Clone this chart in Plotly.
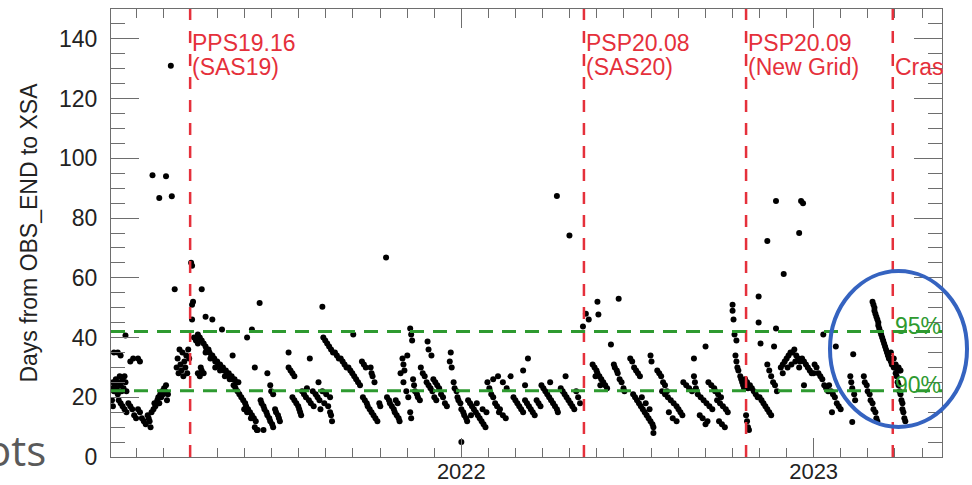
import pandas as pd
import plotly.graph_objects as go

# ---------------- data ----------------
EPOCH = "2021-01-01"   # obs day offsets are days since this date

# (days since EPOCH, days from OBS_END to XSA)
obs_before_sas19 = [
    (3, 23), (4, 25), (5, 22), (6, 24), (7, 26), (8, 23), (9, 21), (10, 25), (11, 27), (12, 24),
    (13, 22), (14, 26), (15, 23), (16, 27), (17, 25), (18, 22), (5, 35), (9, 35), (12, 34), (17, 40.7),
    (3, 19), (4, 17), (10, 19), (12, 18), (14, 17), (16, 16), (18, 15), (20, 18), (22, 17), (24, 16),
    (26, 14), (28, 13), (30, 16), (32, 15), (34, 13), (36, 12), (38, 11), (40, 14), (41, 13), (42, 12),
    (43, 10), (44, 15), (46, 16), (47, 18), (48, 17), (50, 19), (51, 20), (52, 18), (53, 21), (54, 20),
    (55, 22), (56, 21), (57, 23), (58, 22), (59, 24), (60, 19), (61, 21), (22, 32), (25, 33), (30, 33),
    (32, 32), (45, 94.3), (59, 94), (52, 86.7), (65, 87.3), (64, 131), (68, 56.2), (70, 30), (71, 33),
    (72, 28), (73, 36), (74, 31), (75, 29), (76, 35), (77, 27), (78, 32), (79, 30), (80, 34), (81, 28),
    (82, 36), (83, 33),
]

obs_sas19 = [
    (85, 65), (86, 64), (86, 51), (87, 52), (86, 46), (96, 56.2), (88, 40), (90, 39), (92, 38), (92, 28),
    (94, 27), (96, 29), (95, 30), (98, 28), (92, 41), (94, 40), (96, 39), (98, 38), (100, 37), (101, 36),
    (103, 36), (104, 35), (106, 34), (107, 34), (109, 33), (110, 32), (112, 32), (113, 31), (115, 31),
    (116, 30), (118, 30), (119, 29), (121, 29), (122, 28), (124, 28), (125, 27), (127, 27), (128, 26),
    (130, 26), (132, 25), (134, 25), (100, 35), (105, 33), (110, 30), (115, 29), (120, 27), (125, 26),
    (130, 24), (100, 47), (107, 46), (117, 42.7), (128, 34), (129, 24), (131, 23), (133, 22), (135, 21),
    (137, 20), (139, 19), (141, 18), (142, 17), (144, 16), (146, 15), (148, 14), (150, 13), (152, 12),
    (140, 16), (143, 15), (147, 13), (151, 10), (153, 9), (154, 9), (160, 9), (143, 40), (148, 42.7),
    (151, 30), (156, 51.6), (157, 19), (158, 18), (160, 17), (161, 16), (163, 15), (164, 14), (166, 13),
    (167, 12), (169, 11), (170, 10), (172, 16), (173, 15), (175, 14), (176, 13), (177, 12), (164, 28),
    (167, 24), (168, 22), (170, 21), (186, 35), (186, 30), (188, 29), (190, 28), (192, 27), (190, 20),
    (192, 19), (194, 18), (196, 17), (197, 16), (198, 15), (199, 14), (200, 22), (202, 21), (204, 20),
    (205, 23), (207, 19), (209, 18), (211, 22), (212, 17), (214, 21), (216, 20), (218, 19), (219, 16),
    (221, 22), (223, 18), (225, 21), (227, 17), (229, 20), (208, 33), (217, 25), (221, 50.3), (222, 40),
    (224, 39), (226, 38), (228, 37), (230, 36), (232, 35), (234, 35), (236, 34), (238, 33), (229, 15),
    (230, 14), (231, 12), (240, 33), (242, 32), (244, 31), (246, 30), (248, 30), (250, 29), (252, 28),
    (254, 27), (256, 26), (258, 25), (260, 24), (253, 41), (262, 32), (264, 31), (266, 30), (271, 30),
    (272, 28), (273, 27), (275, 25), (263, 20), (265, 19), (267, 18), (268, 17), (270, 16), (272, 15),
    (274, 14), (276, 13), (278, 12), (280, 18), (281, 17), (287, 66.8), (288, 20), (290, 19), (291, 18),
    (293, 17), (295, 16), (296, 15), (298, 14), (300, 13), (301, 12), (297, 19), (299, 18), (304, 33),
    (305, 31), (306, 29), (309, 34), (312, 43), (313, 41), (314, 39), (312, 15), (313, 13), (315, 26),
    (316, 24), (317, 22), (319, 21), (320, 20), (322, 19), (302, 28), (305, 25), (308, 22), (310, 20),
    (330, 38.7), (331, 36), (334, 34), (323, 30), (325, 28), (327, 27), (329, 25), (331, 24), (333, 23),
    (335, 22), (337, 20), (339, 19), (336, 26), (338, 25), (340, 24), (342, 23), (344, 21), (346, 20),
    (348, 18), (350, 17), (354, 35), (353, 32), (355, 30), (357, 25), (358, 23), (360, 22), (361, 20),
    (362, 19), (364, 18), (365, 16), (367, 15), (368, 14), (370, 13), (371, 12), (365, 5), (372, 19),
    (374, 18), (376, 17), (378, 16), (380, 15), (382, 14), (384, 13), (386, 12), (388, 11), (390, 10),
    (375, 14), (381, 18), (387, 16), (391, 15), (392, 25), (394, 23), (396, 21), (398, 20), (400, 18),
    (402, 17), (404, 15), (398, 26), (403, 27), (408, 25), (412, 23), (405, 16), (408, 14), (411, 13),
    (416, 27), (429, 29), (434, 33), (419, 20), (421, 19), (423, 18), (425, 17), (427, 16), (429, 15),
    (431, 19), (433, 18), (435, 17), (437, 16), (439, 15), (441, 14), (443, 19), (445, 18), (447, 17),
    (431, 24), (448, 24), (450, 23), (452, 22), (454, 21), (456, 20), (458, 19), (460, 18), (462, 17),
    (464, 16), (465, 15), (457, 25), (473, 27), (468, 23), (470, 22), (472, 21), (474, 20), (476, 19),
    (478, 18), (480, 17), (482, 16), (484, 22), (486, 20), (488, 18), (464, 87.4), (477, 74.2),
]

obs_sas20 = [
    (491, 43.7), (494, 48), (497, 46), (506, 52), (507, 47.7), (528, 53), (520, 37.7), (501, 31),
    (503, 30), (505, 29), (506, 28), (508, 27), (510, 26), (512, 25), (514, 24), (516, 23), (504, 27),
    (509, 24), (523, 31), (524, 30), (526, 29), (527, 28), (529, 26), (531, 25), (533, 23), (534, 22),
    (540, 33), (542, 32), (544, 30), (546, 29), (548, 28), (550, 27), (543, 21), (545, 20), (547, 19),
    (549, 18), (551, 17), (553, 16), (555, 15), (557, 14), (559, 13), (561, 12), (563, 11), (564, 10),
    (552, 20), (556, 18), (560, 16), (564, 8), (561, 34), (562, 32), (568, 29), (570, 28), (572, 27),
    (574, 25), (576, 24), (578, 22), (573, 22), (576, 21), (579, 20), (582, 19), (585, 18), (588, 17),
    (590, 16), (592, 15), (594, 14), (580, 15), (584, 13), (588, 12), (606, 33), (606, 27), (607, 25),
    (608, 23), (595, 25), (598, 24), (601, 23), (604, 22), (610, 21), (613, 20), (616, 19), (619, 18),
    (622, 17), (625, 16), (628, 22), (631, 21), (634, 20), (618, 37), (620, 12), (612, 14), (615, 13),
    (618, 11), (621, 25), (624, 24), (627, 23), (630, 19), (633, 18), (636, 17), (639, 16), (641, 15),
    (632, 12), (635, 11), (638, 10), (646, 51), (646, 49), (647, 46), (648, 41), (650, 39), (649, 34),
    (650, 32), (651, 30), (652, 29), (654, 27), (655, 26), (656, 25), (657, 24), (658, 23), (659, 26),
]

obs_new_grid = [
    (661, 25), (662, 23), (660, 14), (661, 12), (662, 10), (663, 9), (664, 24), (666, 23), (668, 22),
    (670, 21), (672, 20), (674, 20), (676, 19), (678, 18), (680, 17), (682, 16), (684, 15), (686, 14),
    (673, 53.7), (673, 45), (675, 38), (691, 43), (689, 37), (682, 31), (684, 29), (686, 27), (688, 25),
    (690, 24), (692, 22), (691, 85.7), (717, 85.7), (719, 85), (682, 72.3), (715, 75), (699, 61.3),
    (696, 30), (698, 31), (700, 32), (702, 33), (704, 34), (706, 35), (708, 35), (710, 36), (712, 34),
    (714, 33), (716, 32), (698, 28), (703, 30), (707, 31), (711, 32), (715, 30), (718, 33), (720, 32),
    (722, 31), (724, 30), (726, 29), (728, 28), (730, 28), (720, 24), (731, 31), (733, 30), (735, 28),
    (737, 27), (739, 26), (741, 24), (743, 23), (745, 22), (740, 41), (746, 24), (748, 22), (750, 21),
    (752, 20), (754, 18), (756, 17), (758, 16), (749, 15), (753, 37), (770, 11.7), (771, 34.4),
    (768, 27), (769, 25), (770, 23), (772, 21), (773, 19), (782, 27), (783, 25), (785, 24), (786, 22),
    (788, 21), (789, 19), (791, 18), (792, 16), (794, 15), (795, 13), (796, 12), (791, 52), (792, 51),
    (793, 50), (793, 49), (794, 48), (795, 47), (796, 46), (797, 45), (797, 44), (798, 43), (799, 42),
    (800, 41), (801, 40), (802, 39), (803, 38), (804, 37), (805, 36), (806, 35), (807, 34), (808, 33),
    (809, 33), (810, 32), (811, 31), (812, 31), (813, 30), (814, 30), (815, 31), (816, 30), (817, 29),
    (818, 30), (819, 29), (820, 29), (815, 28), (813, 33), (810, 35), (816, 27), (817, 25), (818, 24),
    (819, 22), (820, 21), (821, 19), (822, 18), (822, 16), (823, 15), (824, 13), (825, 12),
]

event_dates = ["2021-03-26", "2022-05-08", "2022-10-23", "2023-03-24"]
event_line1 = ["PPS19.16", "PSP20.08", "PSP20.09", ""]
event_line2 = ["(SAS19)", "(SAS20)", "(New Grid)", "Cras"]

threshold_values = [42.0, 22.2]
threshold_labels = ["95%", "90%"]

x_range = ["2021-01-03", "2023-05-14"]
y_range = [0, 150]

# ---------------- build ----------------
all_obs = obs_before_sas19 + obs_sas19 + obs_sas20 + obs_new_grid
days = [p[0] for p in all_obs]
delays = [p[1] for p in all_obs]
dates = pd.to_datetime(EPOCH) + pd.to_timedelta(days, unit="D")

RED = "#e5303b"
GREEN = "#2e9a30"
AXC = "#6e6e6e"
FONT = "Liberation Sans"

fig = go.Figure()
fig.add_trace(go.Scatter(
    x=dates, y=delays, mode="markers",
    marker=dict(color="black", size=6, line=dict(width=0)),
    showlegend=False, hoverinfo="skip",
))

for d in event_dates:
    fig.add_shape(type="line", xref="x", yref="paper", x0=d, x1=d, y0=0, y1=1,
                  line=dict(color=RED, width=2.5, dash="12px,11px"))

for v in threshold_values:
    fig.add_shape(type="line", xref="paper", yref="y", x0=0, x1=1, y0=v, y1=v,
                  line=dict(color=GREEN, width=3, dash="14px,9px"))

ann = []
for d, l1, l2 in zip(event_dates, event_line1, event_line2):
    if l1:
        ann.append(dict(x=d, y=0.924, xref="x", yref="paper", text=l1, showarrow=False,
                        xanchor="left", yanchor="middle", xshift=0,
                        font=dict(family=FONT, size=23, color=RED)))
    ann.append(dict(x=d, y=0.8705, xref="x", yref="paper", text=l2, showarrow=False,
                    xanchor="left", yanchor="middle", xshift=0,
                    font=dict(family=FONT, size=23, color=RED)))

for v_pos, lab in zip([0.2924, 0.1607], threshold_labels):
    ann.append(dict(x=event_dates[-1], y=v_pos, xref="x", yref="paper", text=lab,
                    showarrow=False, xanchor="left", yanchor="middle", xshift=0,
                    font=dict(family=FONT, size=23, color=GREEN)))

ann.append(dict(x=-0.0758, y=-0.052, xref="paper", yref="paper", text="ots",
                showarrow=False, xanchor="right", yanchor="bottom",
                font=dict(family="Open Sans", size=42, color="#5a5a5a")))

fig.add_shape(type="circle", xref="paper", yref="paper",
              x0=0.8652, x1=1.0301, y0=0.067, y1=0.415,
              line=dict(color="#3563c0", width=4))

fig.update_layout(
    width=972, height=485,
    margin=dict(l=111, r=30, t=9, b=28, autoexpand=False),
    paper_bgcolor="white", plot_bgcolor="white",
    font=dict(family=FONT, size=23, color="#222222"),
    annotations=ann,
)

fig.update_xaxes(
    type="date", range=x_range,
    showline=True, linecolor=AXC, linewidth=1, mirror="ticks",
    ticks="inside", ticklen=19, tickcolor=AXC, tickwidth=1,
    tick0="2021-01-01", dtick="M12", tickformat="%Y", ticklabelstandoff=-5,
    tickfont=dict(family=FONT, size=22, color="#222222"),
    showgrid=False, zeroline=False,
    minor=dict(ticks="inside", ticklen=9, tickcolor=AXC, tickwidth=1,
               tick0="2021-01-01", dtick=int(365 / 13 * 86400000), showgrid=False),
)

fig.update_yaxes(
    range=y_range,
    showline=True, linecolor=AXC, linewidth=1, mirror="ticks",
    ticks="inside", ticklen=28, tickcolor=AXC, tickwidth=1,
    tick0=0, dtick=20, ticklabelstandoff=8,
    tickfont=dict(family=FONT, size=23, color="#222222"),
    showgrid=False, zeroline=False,
    minor=dict(ticks="inside", ticklen=14, tickcolor=AXC, tickwidth=1,
               tick0=0, dtick=5, showgrid=False),
    title=dict(text="Days from OBS_END to XSA", standoff=14,
               font=dict(family=FONT, size=23, color="#222222")),
)

fig.write_html("out.html", config={"displayModeBar": False},
               post_script="document.body.style.margin='0px';")
